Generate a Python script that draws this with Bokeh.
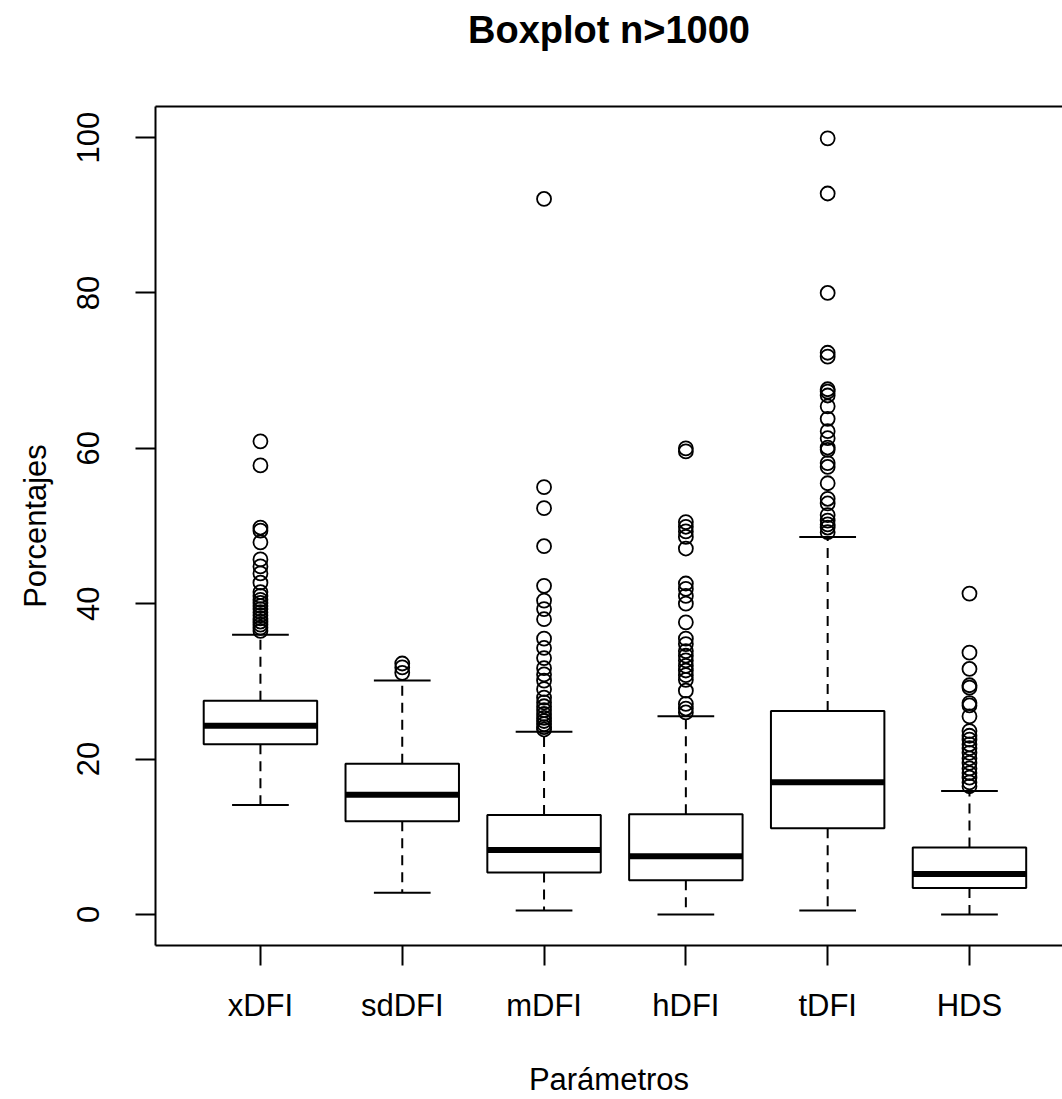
from bokeh.plotting import figure
from bokeh.models import Range1d, FixedTicker, LinearAxis, Title
from bokeh.embed import file_html
from bokeh.resources import INLINE

# ---- data ----
categories = ["xDFI", "sdDFI", "mDFI", "hDFI", "tDFI", "HDS"]
whisker_low = [14.1, 2.8, 0.5, 0.0, 0.5, 0.0]
q1 = [21.9, 12.0, 5.4, 4.4, 11.1, 3.4]
median = [24.3, 15.4, 8.3, 7.5, 17.0, 5.2]
q3 = [27.5, 19.4, 12.8, 12.9, 26.2, 8.6]
whisker_high = [36.0, 30.1, 23.5, 25.5, 48.6, 15.9]

out_xDFI = [60.9, 57.8, 49.8, 49.4, 47.9, 45.7, 44.8, 43.9, 42.7, 41.5, 41.0, 40.5,
            40.1, 39.7, 39.3, 38.9, 38.5, 38.1, 37.7, 37.3, 36.9, 36.5]
out_sdDFI = [32.3, 31.8, 31.1]
out_mDFI = [92.1, 55.0, 52.3, 47.4, 42.3, 40.4, 39.3, 38.0, 35.5, 34.3, 33.0, 31.7,
            30.9, 30.1, 29.0, 27.9, 27.3, 26.8, 26.3, 25.8, 25.3, 24.9, 24.5, 24.1, 23.8]
out_hDFI = [60.0, 59.6, 50.5, 49.9, 49.3, 48.6, 47.1, 42.6, 41.9, 41.0, 40.0, 37.6,
            35.5, 34.8, 33.9, 33.3, 32.7, 32.0, 31.4, 30.8, 30.2, 28.8, 27.1, 26.5, 26.0]
out_tDFI = [99.9, 92.8, 80.0, 72.3, 71.8, 67.6, 67.3, 66.8, 65.4, 63.8, 62.2, 61.3,
            60.1, 59.8, 58.1, 57.6, 55.5, 53.5, 52.9, 51.4, 50.7, 50.2, 49.8, 49.2]
out_HDS = [41.3, 33.7, 31.6, 29.5, 29.2, 27.2, 26.9, 25.5, 23.6, 23.0, 22.5, 21.9,
           21.4, 20.8, 20.1, 19.5, 18.8, 18.2, 17.6, 17.0, 16.5]
outliers = [out_xDFI, out_sdDFI, out_mDFI, out_hDFI, out_tDFI, out_HDS]

y_ticks = [0, 20, 40, 60, 80, 100]

FONT = "Liberation Sans, Arial, sans-serif"

pos = list(range(1, len(categories) + 1))
half_box = 0.4
half_staple = 0.2

p = figure(width=1062, height=1099, output_backend="svg", toolbar_location=None,
           x_range=Range1d(0.26, 6.656), y_range=Range1d(-4, 104),
           min_border_left=155, min_border_right=0, min_border_top=106,
           min_border_bottom=154, x_axis_type=None, y_axis_type=None)
p.outline_line_color = None
p.xgrid.visible = False
p.ygrid.visible = False
p.background_fill_color = "white"
p.border_fill_color = "white"

# whiskers (dashed)
p.segment(x0=pos, y0=q3, x1=pos, y1=whisker_high, line_color="black",
          line_width=2, line_dash="10 7")
p.segment(x0=pos, y0=q1, x1=pos, y1=whisker_low, line_color="black",
          line_width=2, line_dash="10 7")
# boxes
p.quad(left=[x - half_box for x in pos], right=[x + half_box for x in pos],
       bottom=q1, top=q3, fill_color="white", line_color="black", line_width=2)
# medians
p.segment(x0=[x - half_box for x in pos], y0=median,
          x1=[x + half_box for x in pos], y1=median, line_color="black", line_width=6)
# staples
p.segment(x0=[x - half_staple for x in pos], y0=whisker_high,
          x1=[x + half_staple for x in pos], y1=whisker_high, line_color="black", line_width=2)
p.segment(x0=[x - half_staple for x in pos], y0=whisker_low,
          x1=[x + half_staple for x in pos], y1=whisker_low, line_color="black", line_width=2)
# outliers
ox, oy = [], []
for x, vals in zip(pos, outliers):
    for v in vals:
        ox.append(x)
        oy.append(v)
p.scatter(x=ox, y=oy, marker="circle", size=14, fill_color=None,
          line_color="black", line_width=1.8)

def style_axis(ax):
    ax.axis_line_color = "black"
    ax.axis_line_width = 2
    ax.major_tick_line_color = "black"
    ax.major_tick_line_width = 2
    ax.major_tick_out = 20
    ax.major_tick_in = 0
    ax.minor_tick_line_color = None
    ax.major_label_text_font = FONT
    ax.major_label_text_font_size = "31px"
    ax.major_label_text_color = "black"
    ax.axis_label_text_font = FONT
    ax.axis_label_text_font_size = "31px"
    ax.axis_label_text_font_style = "normal"
    ax.axis_label_text_color = "black"

yax = LinearAxis(ticker=FixedTicker(ticks=y_ticks), axis_label="Porcentajes")
style_axis(yax)
yax.major_label_orientation = "vertical"
yax.major_label_standoff = 36
yax.axis_label_standoff = 22
p.add_layout(yax, "left")

xax = LinearAxis(ticker=FixedTicker(ticks=pos), axis_label="Parámetros",
                 major_label_overrides={i: c for i, c in zip(pos, categories)})
style_axis(xax)
xax.major_label_standoff = 22
xax.axis_label_standoff = 36
p.add_layout(xax, "below")

top = LinearAxis(ticker=FixedTicker(ticks=[]))
top.axis_line_color = "black"
top.axis_line_width = 2
top.major_tick_line_color = None
top.minor_tick_line_color = None
top.major_label_text_font_size = "0px"
p.add_layout(top, "above")

p.title = Title(text="Boxplot n>1000\n ", align="center", text_font=FONT,
                text_font_size="38px", text_font_style="bold", text_color="black",
                text_line_height=1.2)

open("out.html", "w").write(file_html(p, INLINE))
